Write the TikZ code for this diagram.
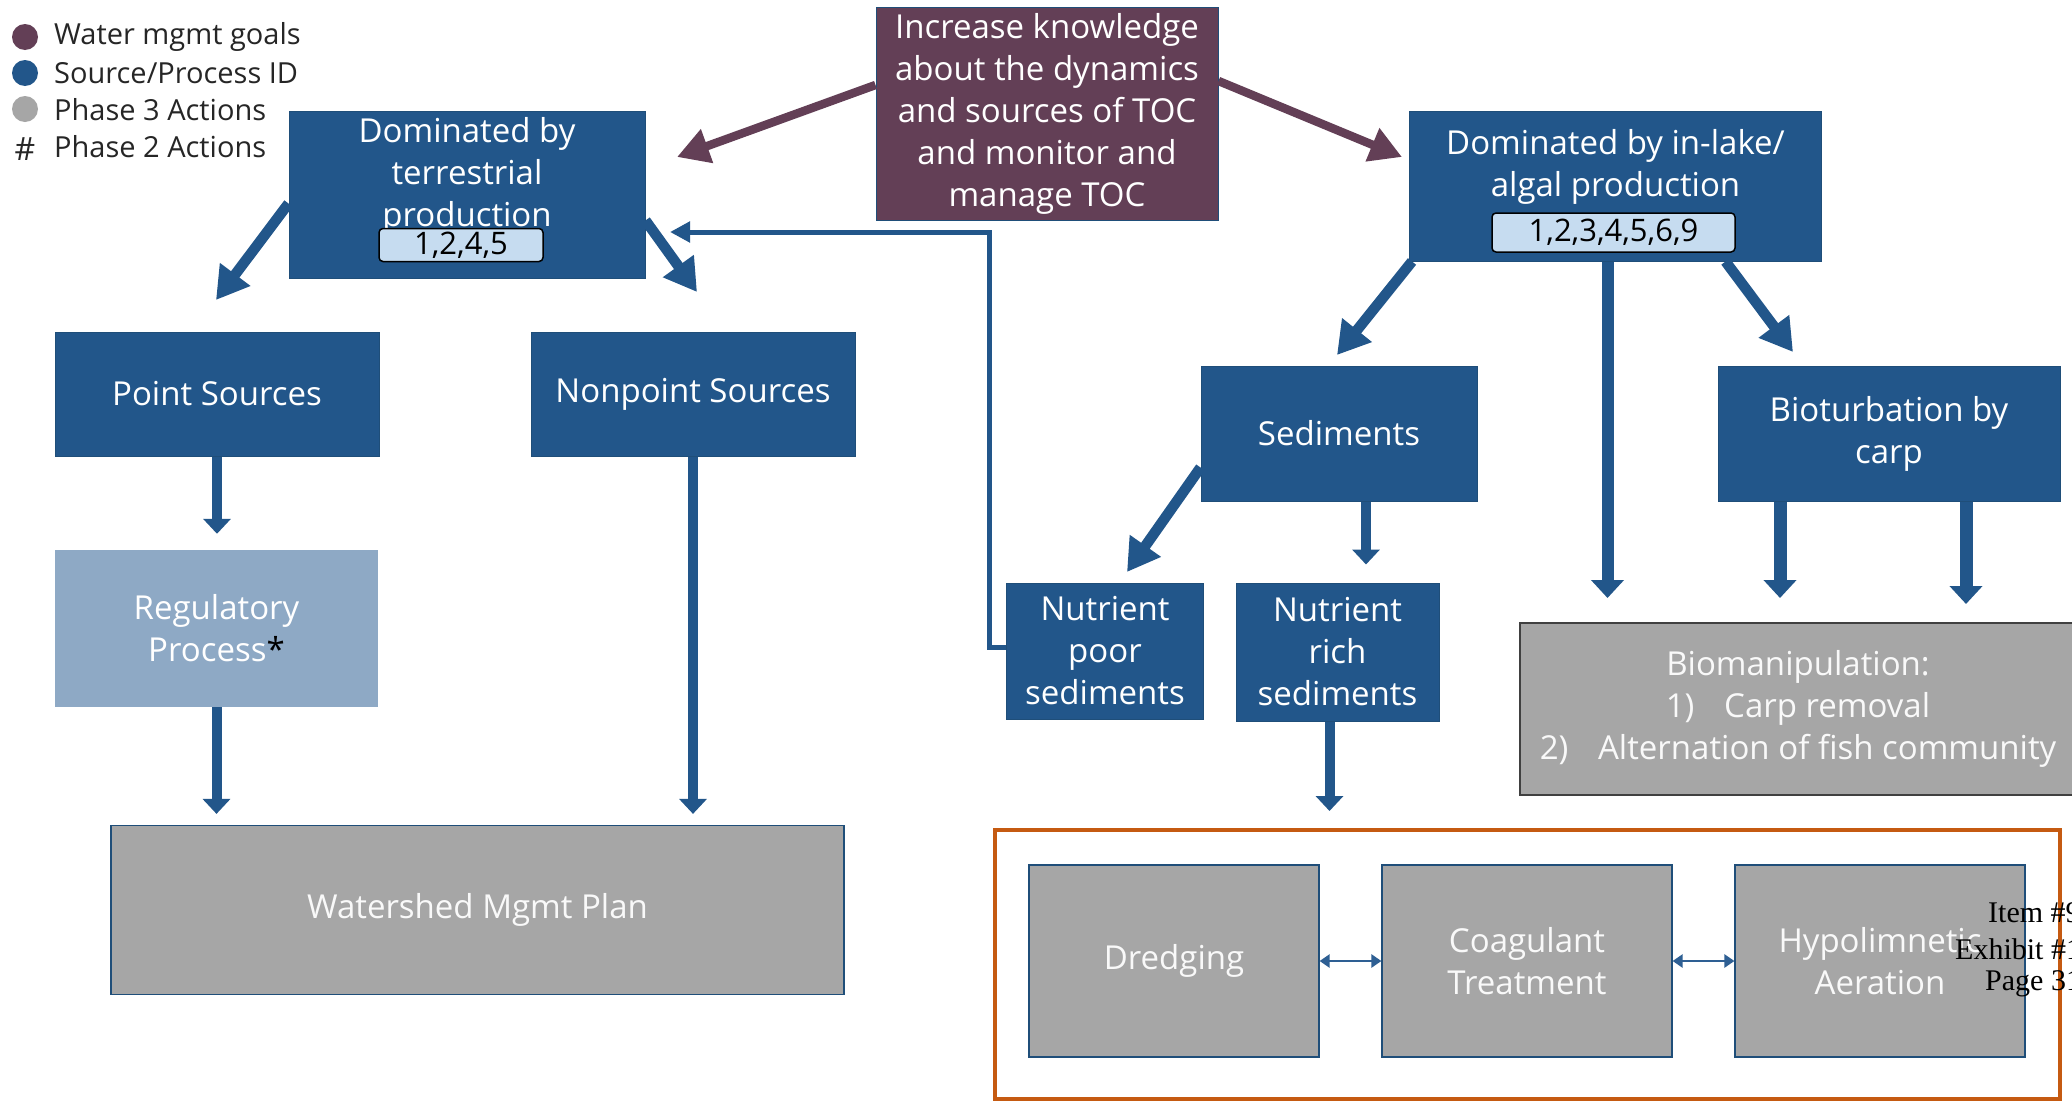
\documentclass[tikz,border=0pt]{standalone}
\usepackage{fontspec}
\setmainfont{Open Sans}
\newfontfamily\stampfont{Liberation Serif}
\usetikzlibrary{arrows.meta,calc}

\definecolor{boxblue}{HTML}{22568A}
\definecolor{edgeblue}{HTML}{1F4E79}
\definecolor{goalpurple}{HTML}{633F56}
\definecolor{actgray}{HTML}{A6A6A6}
\definecolor{regblue}{HTML}{8EA9C5}
\definecolor{badgefill}{HTML}{C6DCF0}
\definecolor{frameorange}{HTML}{C55A11}
\definecolor{linkblue}{HTML}{2E5F93}
\definecolor{legtext}{HTML}{262626}

\begin{document}
\begin{tikzpicture}[x=1pt,y=-1pt,
  txt/.style={rectangle, inner sep=0pt, align=center, text=white,
    font=\fontsize{33}{42}\selectfont},
  bluebox/.style={txt, fill=boxblue, draw=edgeblue, line width=1pt},
  goalbox/.style={txt, fill=goalpurple, draw=edgeblue, line width=1pt},
  regbox/.style={txt, fill=regblue},
  actbox/.style={txt, fill=actgray, draw=edgeblue, line width=1.2pt, text=white!95!gray},
  biombox/.style={txt, fill=actgray, draw=black!75, line width=2pt, text=white!95!gray},
  badge/.style={rectangle, rounded corners=4pt, fill=badgefill, draw=black,
    line width=1.5pt, text=black, inner sep=0pt, font=\fontsize{31}{31}\selectfont},
  plaintext/.style={txt},
  legdot/.style={circle, inner sep=0pt, minimum size=26pt},
  legtxt/.style={inner sep=0pt, anchor=west, text=legtext, font=\fontsize{29}{29}\selectfont},
  stamp/.style={inner sep=0pt, anchor=west, text=black, font=\stampfont\fontsize{30}{30}\selectfont},
  goalarrow/.style={draw=goalpurple, line width=8.5pt, -{Triangle[length=32pt,width=34pt]}},
  diagarrow/.style={draw=boxblue, line width=10.5pt, -{Triangle[length=32pt,width=36pt]}},
  downarrow/.style={draw=boxblue, line width=10pt, -{Triangle[length=15pt,width=27pt]}},
  thickdown/.style={draw=boxblue, line width=13pt, -{Triangle[length=18pt,width=32pt]}},
  feedback/.style={draw=boxblue, line width=5pt, -{Triangle[length=20pt,width=20pt]}},
  linkarrow/.style={draw=linkblue, line width=2.5pt,
    {Triangle[length=10pt,width=13pt]}-{Triangle[length=10pt,width=13pt]}}
]
\useasboundingbox (0,0) rectangle (2072,1103);
\fill[white] (0,0) rectangle (2072,1103);

% legend
\node[legdot, fill=goalpurple] (dotgoal) at (25,37) {};
\node[legdot, fill=boxblue] (dotsrc) at (25,73) {};
\node[legdot, fill=actgray] (dotact) at (25,109) {};
\node[inner sep=0pt, text=legtext, font=\fontsize{32}{32}\selectfont] (hash) at (25,149) {\#};
\node[legtxt] (leggoal) at (54,37) {Water mgmt goals};
\node[legtxt] (legsrc) at (54,73) {Source/Process ID};
\node[legtxt] (legact) at (54,110) {Phase 3 Actions};
\node[legtxt] (legph2) at (54,147) {Phase 2 Actions};

% goal
\node[goalbox, minimum width=342pt, minimum height=213pt] (goal) at (1047,114)
  {Increase knowledge\\about the dynamics\\and sources of TOC\\and monitor and\\manage TOC};

% terrestrial branch
\node[bluebox, minimum width=356pt, minimum height=167pt] (terr) at (467,194.5) {};
\node[plaintext] (terrtxt) at (467,176) {Dominated by\\terrestrial\\production};
\node[badge, minimum width=164pt, minimum height=33pt] (terrid) at (461,245) {1,2,4,5};

\node[bluebox, minimum width=324pt, minimum height=124pt] (point) at (217,394) {Point Sources};
\node[bluebox, minimum width=324pt, minimum height=124pt] (nonpoint) at (693,394) {Nonpoint Sources};
\node[regbox, minimum width=323pt, minimum height=157pt] (reg) at (216.5,628.5)
  {Regulatory\\Process\textcolor{black}{*}};
\node[actbox, minimum width=733pt, minimum height=169pt] (wmp) at (477.5,910) {Watershed Mgmt Plan};

% in-lake branch
\node[bluebox, minimum width=412pt, minimum height=150pt] (lake) at (1615.5,186) {};
\node[plaintext] (laketxt) at (1615.5,167) {Dominated by in-lake/\\algal production};
\node[badge, minimum width=243pt, minimum height=39pt] (lakeid) at (1613.5,232.5) {1,2,3,4,5,6,9};

\node[bluebox, minimum width=276pt, minimum height=135pt] (sed) at (1339,433.5) {Sediments};
\node[bluebox, minimum width=342pt, minimum height=135pt] (bio) at (1889,433.5) {Bioturbation by\\carp};
\node[bluebox, minimum width=197pt, minimum height=136pt] (poor) at (1105,651) {Nutrient\\poor\\sediments};
\node[bluebox, minimum width=203pt, minimum height=138pt] (rich) at (1337.5,652) {Nutrient\\rich\\sediments};
\node[biombox, minimum width=556pt, minimum height=172pt] (biom) at (1798,709)
  {Biomanipulation:\\1)\hspace{0.9em}Carp removal\\2)\hspace{0.9em}Alternation of fish community};

% in-lake treatment options
\node[draw=frameorange, line width=4pt, rectangle, inner sep=0pt,
  minimum width=1065pt, minimum height=269pt] (frame) at (1527.5,964.5) {};
\node[actbox, minimum width=290pt, minimum height=192pt] (dredge) at (1174,961) {Dredging};
\node[actbox, minimum width=290pt, minimum height=192pt] (coag) at (1527,961) {Coagulant\\Treatment};
\node[actbox, minimum width=290pt, minimum height=192pt] (hypo) at (1880,961) {Hypolimnetic\\Aeration};

% arrow start points on box borders
\coordinate (goalL) at ($(goal.west)+(0,-29)$);
\coordinate (goalR) at ($(goal.east)+(0,-33)$);
\coordinate (terrL) at ($(terr.west)+(0,9)$);
\coordinate (terrR) at ($(terr.east)+(0,26)$);
\coordinate (lakeL) at ($(lake.south west)+(3,0)$);
\coordinate (lakeM) at ($(lake.south)+(-8,0)$);
\coordinate (lakeR) at ($(lake.south)+(110,0)$);
\coordinate (sedL) at ($(sed.west)+(0,34)$);
\coordinate (sedD) at ($(sed.south)+(27,0)$);
\coordinate (bioL) at ($(bio.south)+(-109,0)$);
\coordinate (bioR) at ($(bio.south)+(77,0)$);
\coordinate (richD) at ($(rich.south)+(-8,0)$);
\coordinate (poorL) at ($(poor.west)+(0,-4)$);

% free arrow ends
\coordinate (tipterr) at (677,157);
\coordinate (tiplake) at (1402,157);
\coordinate (tippoint) at (216,300);
\coordinate (tipnon) at (697,292);
\coordinate (tipsed) at (1337,355);
\coordinate (tipbio) at (1793,352);
\coordinate (tippoor) at (1127,572);
\coordinate (tipfb) at (670,232);
\coordinate (regtop) at ($(reg.north)+(0,-16)$);
\coordinate (wmptop) at ($(wmp.north)+(0,-11)$);
\coordinate (biomtop) at ($(biom.north)+(0,-24)$);
\coordinate (biomtopb) at ($(biom.north)+(0,-18)$);
\coordinate (richtop) at ($(rich.north)+(0,-18)$);
\coordinate (frametop) at ($(frame.north)+(0,-17)$);

% connectors
\draw[goalarrow] (goalL) -- (tipterr);
\draw[goalarrow] (goalR) -- (tiplake);

\draw[diagarrow] (terrL) -- (tippoint);
\draw[diagarrow] (terrR) -- (tipnon);

\draw[downarrow] (point.south) -- (point.south |- regtop);
\draw[downarrow] (nonpoint.south) -- (nonpoint.south |- wmptop);
\draw[downarrow] (reg.south) -- (reg.south |- wmptop);

\draw[diagarrow] (lakeL) -- (tipsed);
\draw[thickdown, line width=12pt] (lakeM) -- (lakeM |- biomtop);
\draw[diagarrow] (lakeR) -- (tipbio);

\draw[diagarrow] (sedL) -- (tippoor);
\draw[downarrow] (sedD) -- (sedD |- richtop);

\draw[thickdown] (bioL) -- (bioL |- biomtop);
\draw[thickdown] (bioR) -- (bioR |- biomtopb);

\draw[downarrow] (richD) -- (richD |- frametop);

\draw[feedback] (poorL) -- ++(-17,0) |- (tipfb);

\draw[linkarrow] (dredge.east) -- (coag.west);
\draw[linkarrow] (coag.east) -- (hypo.west);

% document stamp
\node[stamp] (stampitem) at (1988,913) {Item \#9};
\node[stamp] (stampexh) at (1955,949) {Exhibit \#1};
\node[stamp] (stamppage) at (1985,984) {Page 31};
\end{tikzpicture}
\end{document}
